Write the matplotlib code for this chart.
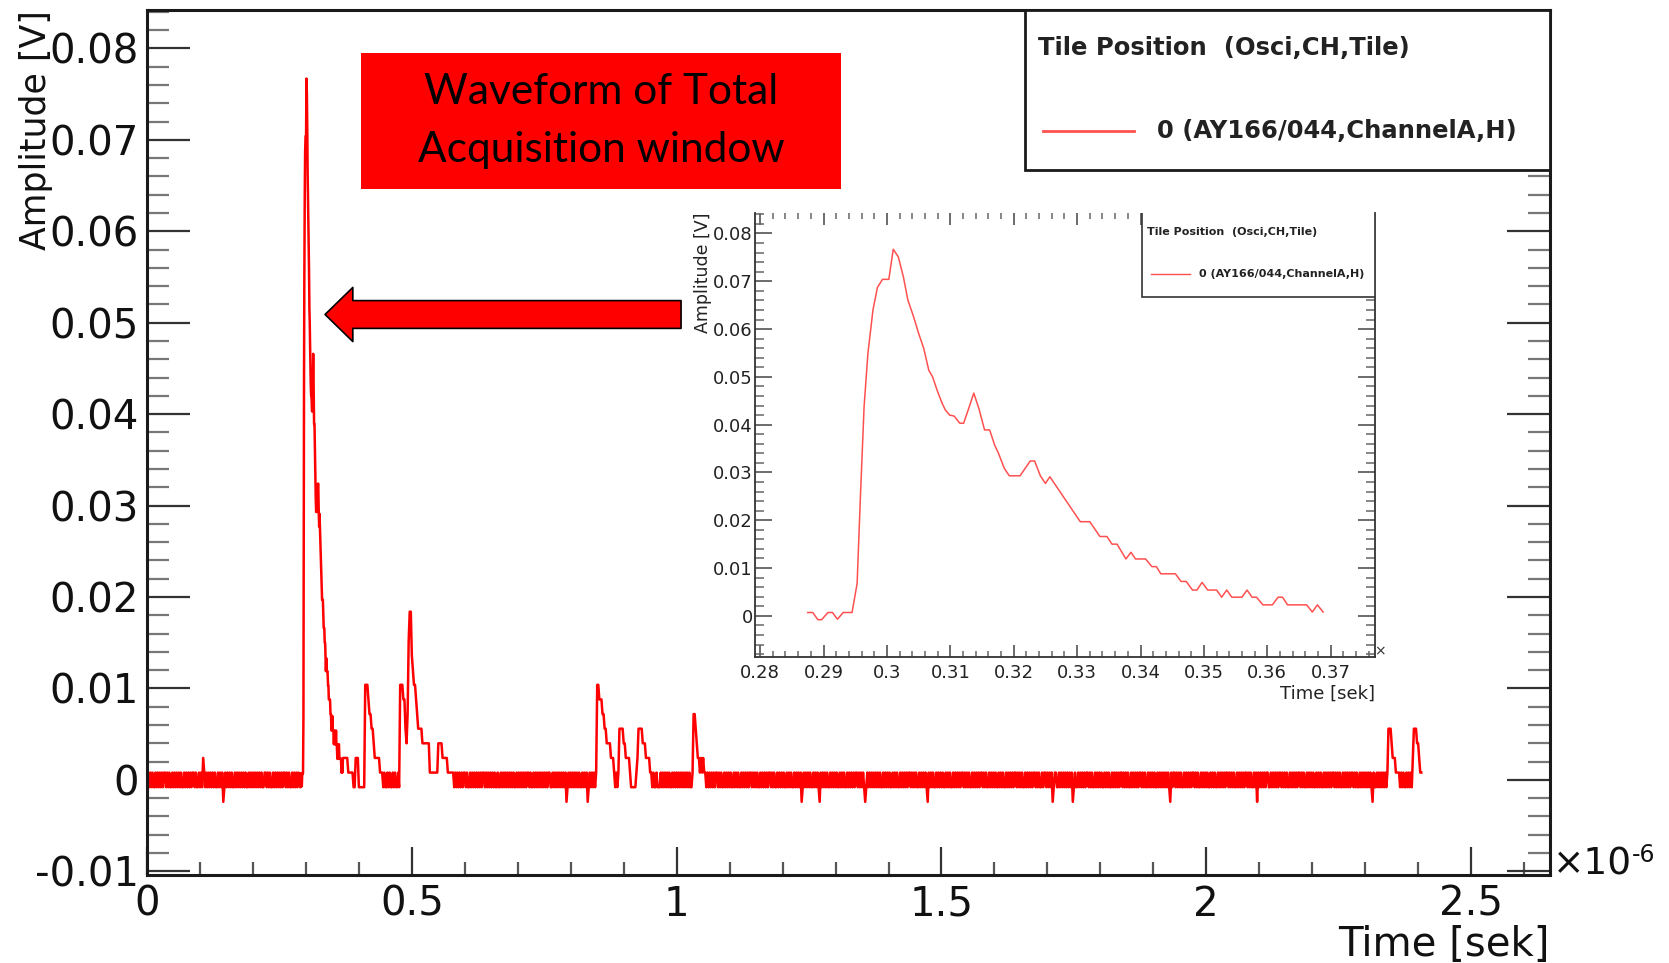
import numpy as np
import matplotlib
matplotlib.use("Agg")
import matplotlib.pyplot as plt
from matplotlib.patches import Rectangle
from matplotlib.lines import Line2D
from matplotlib.ticker import MultipleLocator, FuncFormatter

plt.rcParams["axes.unicode_minus"] = False

# scope ADC step [V]; a code char c stands for (int(c, 16) - 1.5) * LSB
LSB = 0.0016
DT = 0.002  # µs between coded samples

# coded stretches of the acquisition window, start time in µs
seg_start = [0.000, 0.370, 0.580, 0.848, 0.968, 1.032, 1.056, 2.344]
seg_codes = [
    # baseline before the pulse
    ("1212121121" "2121212212" "1211212121" "2121121212" "1212212112"
     "1213212121" "2121211212" "1201212121" "2112121212" "1212112121"
     "2121212121" "1221212112" "1212121212" "2121211212" "1212"),
    # afterpulses
    ("33333" "22222" "11" "333" "111111" "888" "76655433333222"
     "1211212112121121" "88877546bdda98876" "5555" "4444444" "22222222"
     "4444" "33333" "222222"),
    ("1212121212" "2121121212" "1212121221" "2121212121" "1211212121"
     "2121212112" "1212121212" "2121121212" "1212121212" "2112121212"
     "1212120121" "2121212121" "1212120121" "2121"),
    ("2887776655444433321212" "555544333321111123" "55554443333221211211"),
    ("1212121212" "1121212121" "2121212121" "12"),
    ("665433232322"),
    ("1212121212" "2121211212" "1212112121" "2112121212" "1221212121"
     "1212121212" "2121211212" "1212112121" "2112121212" "0121212121"
     "1212121021" "2121211212" "1212112121" "2112121212" "1221212121"
     "0121212121" "2121211212" "1212112121" "2112121212" "1221212121"
     "1212121210" "2121211212" "1212112121" "2112121212" "1221212121"
     "1212121212" "2121211212" "1212112121" "2112121212" "1221212121"
     "1212121212" "2121211212" "2121212012" "2112121212" "1212120121"
     "1212121212" "2121211212" "1212112121" "2112121212" "1221212121"
     "1212121212" "2121211212" "1212112121" "2121212102" "1221212121"
     "1212121212" "2121211212" "1212112121" "2112121212" "1221212121"
     "1212121212" "2121211212" "0212121212" "2112121212" "1221212121"
     "1212121212" "2121211212" "1212112121" "2112121212" "1221212121"
     "1212121212" "2121211212" "1212121210" "2112121212" "1212"),
    ("5554" "333" "2222" "121211212121" "3555" "44" "322"),
]

# main pulse, point by point [µs, V]
pulse_t = [0.2875, 0.2883, 0.2891, 0.2897, 0.2907, 0.2914, 0.2922, 0.2931, 0.2945, 0.2953,
           0.2958, 0.2964, 0.2970, 0.2978, 0.2985, 0.2993, 0.3003, 0.3010, 0.3018, 0.3026,
           0.3033, 0.3042, 0.3050, 0.3058, 0.3066, 0.3072, 0.3080, 0.3087, 0.3092, 0.3099,
           0.3106, 0.3115, 0.3121, 0.3129, 0.3137, 0.3145, 0.3154, 0.3162, 0.3170, 0.3176,
           0.3185, 0.3193, 0.3210, 0.3226, 0.3233, 0.3242, 0.3250, 0.3257, 0.3305, 0.3320,
           0.3336, 0.3347, 0.3355, 0.3363, 0.3377, 0.3385, 0.3392, 0.3408, 0.3418, 0.3425,
           0.3432, 0.3455, 0.3464, 0.3472, 0.3482, 0.3489, 0.3497, 0.3506, 0.3520, 0.3528,
           0.3536, 0.3544, 0.3560, 0.3568, 0.3576, 0.3583, 0.3593, 0.3608, 0.3617, 0.3624,
           0.3632, 0.3662, 0.3671, 0.3679, 0.3688]
pulse_v = [0.0007, 0.0007, -0.0008, -0.0008, 0.0007, 0.0007, -0.0007, 0.0007, 0.0007, 0.0068,
           0.0243, 0.0438, 0.0549, 0.0640, 0.0687, 0.0704, 0.0704, 0.0767, 0.0751, 0.0709,
           0.0661, 0.0626, 0.0591, 0.0560, 0.0514, 0.0500, 0.0469, 0.0445, 0.0431, 0.0420,
           0.0418, 0.0403, 0.0403, 0.0434, 0.0466, 0.0434, 0.0389, 0.0389, 0.0357, 0.0340,
           0.0309, 0.0293, 0.0293, 0.0324, 0.0324, 0.0293, 0.0277, 0.0291, 0.0197, 0.0197,
           0.0166, 0.0166, 0.0150, 0.0150, 0.0119, 0.0133, 0.0119, 0.0119, 0.0103, 0.0103,
           0.0088, 0.0088, 0.0072, 0.0072, 0.0054, 0.0054, 0.0070, 0.0054, 0.0054, 0.0039,
           0.0054, 0.0039, 0.0039, 0.0054, 0.0039, 0.0039, 0.0023, 0.0023, 0.0039, 0.0039,
           0.0023, 0.0023, 0.0008, 0.0023, 0.0008]

LEGEND_HEAD = "Tile Position  (Osci,CH,Tile)"
LEGEND_ENTRY = "0 (AY166/044,ChannelA,H)"
BOX_TEXT = "Waveform of Total\nAcquisition window"


def decode(t0, codes):
    t = t0 + DT * np.arange(len(codes))
    v = (np.array([int(c, 16) for c in codes]) - 1.5) * LSB
    return t, v


parts = [decode(seg_start[0], seg_codes[0]), (np.array(pulse_t), np.array(pulse_v))]
parts += [decode(s, c) for s, c in zip(seg_start[1:], seg_codes[1:])]
t_all = np.concatenate([p[0] for p in parts])
v_all = np.concatenate([p[1] for p in parts])

num = FuncFormatter(lambda v, p: f"{round(v, 4) + 0.0:g}")

fig = plt.figure(figsize=(16.69, 9.63), dpi=100)

# ── full acquisition window ──
ax = fig.add_axes([0.0881, 0.0914, 0.8406, 0.8982])
ax.plot(t_all, v_all, color="#ff0000", lw=1.8)
ax.set_xlim(0, 2.649)
ax.set_ylim(-0.0104, 0.0842)
ax.xaxis.set_major_locator(MultipleLocator(0.5))
ax.xaxis.set_minor_locator(MultipleLocator(0.1))
ax.yaxis.set_major_locator(MultipleLocator(0.01))
ax.yaxis.set_minor_locator(MultipleLocator(0.002))
ax.xaxis.set_major_formatter(num)
ax.yaxis.set_major_formatter(num)
ax.tick_params(axis="y", which="major", direction="in", length=31, width=1.6, color="#333333",
               left=True, right=True, labelsize=29, labelcolor="#111111", pad=6)
ax.tick_params(axis="y", which="minor", direction="in", length=16, width=1.6, color="#777777",
               left=True, right=True)
ax.tick_params(axis="x", which="major", direction="in", length=20, width=1.6, color="#333333",
               bottom=True, top=False, labelsize=29, labelcolor="#111111", pad=7)
ax.tick_params(axis="x", which="minor", direction="in", length=9.5, width=1.6, color="#555555",
               bottom=True, top=False)
for s in ax.spines.values():
    s.set_linewidth(2.2)
    s.set_color("#1a1a1a")

ax.set_ylabel("Amplitude [V]", fontsize=25, loc="top", color="#111111")
ax.yaxis.set_label_coords(-0.067, 1.0)
ax.set_xlabel("Time [sek]", fontsize=29, loc="right", color="#111111")
ax.xaxis.set_label_coords(1.0, -0.058)
# axis multiplier, drawn as base plus raised exponent
mult = ax.text(1.002, 0.0, "×10", transform=ax.transAxes, fontsize=27,
               ha="left", va="baseline", color="#111111")
ax.annotate("-6", xy=(1.0, 1.12), xycoords=mult, fontsize=17, ha="left", va="top",
            color="#111111")

# legend box
ax.add_patch(Rectangle((0.6258, 0.815), 0.3742, 0.185, transform=ax.transAxes,
                       fc="white", ec="#1a1a1a", lw=2.0, zorder=5, clip_on=False))
ax.text(0.635, 0.956, LEGEND_HEAD, transform=ax.transAxes, fontsize=17.5, fontweight="bold",
        va="center", color="#222222", zorder=6)
ax.add_line(Line2D([0.6386, 0.7035], [0.860, 0.860], transform=ax.transAxes,
                   color="#ff5050", lw=2.0, zorder=6))
ax.text(0.7199, 0.860, LEGEND_ENTRY, transform=ax.transAxes, fontsize=17.5, fontweight="bold",
        va="center", color="#222222", zorder=6)

# red caption box + arrow onto the pulse
ax.add_patch(Rectangle((0.1525, 0.793), 0.3422, 0.1573, transform=ax.transAxes,
                       fc="#ff0000", ec="none", zorder=5))
ax.text(0.3236, 0.8717, BOX_TEXT, transform=ax.transAxes, fontsize=30.5, family="Lato",
        ha="center", va="center", linespacing=1.62, color="black", zorder=6)
ax.annotate("", xy=(0.3361, 0.0509), xytext=(1.0083, 0.0509),
            arrowprops=dict(arrowstyle="simple,head_length=1.0,head_width=1.95,tail_width=1.0",
                            mutation_scale=20, fc="#ff0000", ec="black", lw=1.2,
                            shrinkA=0, shrinkB=0), zorder=6)

# ── zoom on the pulse ──
axin = fig.add_axes([0.4524, 0.3178, 0.3715, 0.4611])
axin.plot(pulse_t, pulse_v, color="#ff5050", lw=1.1)
axin.set_xlim(0.2792, 0.377)
axin.set_ylim(-0.0086, 0.0843)
axin.xaxis.set_major_locator(MultipleLocator(0.01))
axin.xaxis.set_minor_locator(MultipleLocator(0.002))
axin.yaxis.set_major_locator(MultipleLocator(0.01))
axin.yaxis.set_minor_locator(MultipleLocator(0.002))
axin.xaxis.set_major_formatter(num)
axin.yaxis.set_major_formatter(num)
axin.spines["top"].set_visible(False)
for k in ("left", "right", "bottom"):
    axin.spines[k].set_linewidth(1.3)
    axin.spines[k].set_color("#333333")
axin.tick_params(axis="y", which="major", direction="in", length=12, width=1.1, color="#444444",
                 left=True, right=True, labelsize=13, labelcolor="#222222", pad=1.5)
axin.tick_params(axis="y", which="minor", direction="in", length=6.5, width=1.1, color="#666666",
                 left=True, right=True)
axin.tick_params(axis="x", which="major", direction="in", length=8.6, width=1.1, color="#444444",
                 bottom=True, top=True, labelsize=13, labelcolor="#222222", pad=5)
axin.tick_params(axis="x", which="minor", direction="in", length=4.3, width=1.1, color="#666666",
                 bottom=True, top=True)
axin.set_ylabel("Amplitude [V]", fontsize=12.5, loc="top", color="#222222")
axin.yaxis.set_label_coords(-0.069, 1.0)
axin.set_xlabel("Time [sek]", fontsize=13, loc="right", color="#222222")
axin.xaxis.set_label_coords(1.0, -0.063)
axin.text(1.008, 0.0135, "×", transform=axin.transAxes, fontsize=10, ha="center",
          va="center", color="#333333")

axin.add_patch(Rectangle((0.624, 0.811), 0.376, 0.25, transform=axin.transAxes,
                         fc="white", ec="#333333", lw=1.2, zorder=5))
axin.text(0.632, 0.957, LEGEND_HEAD, transform=axin.transAxes, fontsize=8, fontweight="bold",
          va="center", color="#222222", zorder=6)
axin.add_line(Line2D([0.639, 0.702], [0.863, 0.863], transform=axin.transAxes,
                     color="#ff5050", lw=1.0, zorder=6))
axin.text(0.716, 0.863, LEGEND_ENTRY, transform=axin.transAxes, fontsize=8, fontweight="bold",
          va="center", color="#222222", zorder=6)

fig.savefig("out.png", dpi=100)
